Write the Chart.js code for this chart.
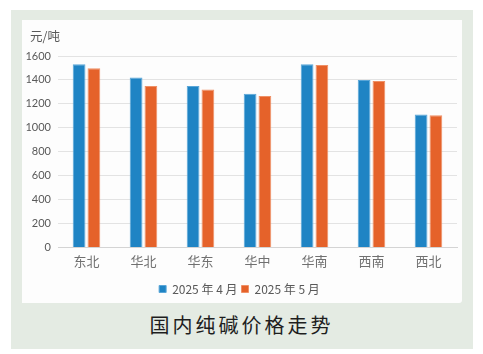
<!DOCTYPE html>
<html>
<head>
<meta charset="utf-8">
<script src="https://cdn.jsdelivr.net/npm/chart.js@4.4.1/dist/chart.umd.min.js"></script>
<style>
  html, body { margin: 0; padding: 0; background: #ffffff; width: 483px; height: 354px; overflow: hidden; }
  #outer { position: absolute; left: 11px; top: 10px; width: 462px; height: 339px; background: #e4ebe3; }
  #panel { position: absolute; left: 22px; top: 20px; width: 440px; height: 283px; background: #fdfdfd; border-radius: 0 0 3px 0; }
  #wrap { position: absolute; left: 0; top: 0; width: 440px; height: 285px; }
  #unit { position: absolute; left: 8px; top: 6px; font: 12.5px "Noto Sans CJK SC", sans-serif; color: #595959; }
  #title { position: absolute; left: 0; width: 483px; top: 310px; text-align: center; font: 20px "Noto Sans CJK SC", sans-serif; letter-spacing: 3px; color: #1e1e1e; }
</style>
</head>
<body>
<div id="outer"></div>
<div id="panel">
  <div id="wrap"><canvas id="c"></canvas></div>
  <div id="unit">元/吨</div>
</div>
<div id="title">国内纯碱价格走势</div>
<script>
const categories = ["东北", "华北", "华东", "华中", "华南", "西南", "西北"];
const seriesNames = ["2025 年 4 月", "2025 年 5 月"];
const april = [1530, 1420, 1350, 1285, 1530, 1400, 1110];
const may = [1497, 1350, 1320, 1265, 1525, 1392, 1105];
const yTicks = [0, 200, 400, 600, 800, 1000, 1200, 1400, 1600];

new Chart(document.getElementById('c'), {
  type: 'bar',
  data: {
    labels: categories,
    datasets: [
      { label: seriesNames[0], data: april, backgroundColor: '#1f84c4', borderColor: '#5aa6d8', borderWidth: 1 },
      { label: seriesNames[1], data: may, backgroundColor: '#e5622a', borderColor: '#ef9066', borderWidth: 1 }
    ]
  },
  options: {
    responsive: true,
    maintainAspectRatio: false,
    animation: false,
    devicePixelRatio: 1,
    layout: { padding: { left: 0, right: 5, top: 36, bottom: 0 } },
    datasets: { bar: { categoryPercentage: 0.52, barPercentage: 0.86 } },
    scales: {
      x: {
        grid: { display: false, drawTicks: false },
        border: { display: true, color: '#d4d4d4', width: 1 },
        afterFit: (s) => { s.height += 4; },
        ticks: { padding: 6, color: '#707070', font: { family: '"Noto Sans CJK SC", sans-serif', size: 13 } }
      },
      y: {
        min: 0, max: 1600,
        afterBuildTicks: (s) => { s.ticks = yTicks.map(v => ({ value: v })); },
        afterFit: (s) => { s.width = 36; },
        grid: { color: '#e3e3e3', drawTicks: false },
        border: { display: false },
        ticks: { padding: 7, color: '#595959', font: { family: 'Lato, sans-serif', size: 11 }, callback: (v) => String(v) }
      }
    },
    plugins: {
      tooltip: { enabled: false },
      legend: {
        position: 'bottom',
        labels: {
          boxWidth: 7, boxHeight: 7, padding: 4,
          color: '#595959',
          font: { family: '"Noto Sans CJK SC", sans-serif', size: 12 }
        }
      }
    }
  }
});
</script>
</body>
</html>
